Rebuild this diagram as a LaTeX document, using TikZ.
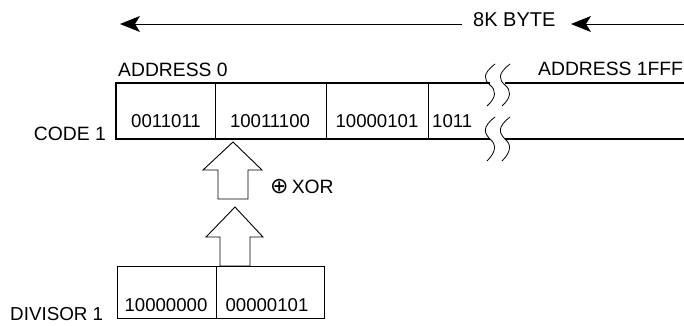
\documentclass[tikz,border=0pt]{standalone}
\usepackage{fontspec}
\setmainfont{Liberation Sans}
\newfontfamily\symfont{DejaVu Sans}
\usetikzlibrary{arrows.meta}
\begin{document}
\begin{tikzpicture}[x=1pt,y=-1pt,
  lbl/.style={inner sep=0pt, font=\fontsize{19.3}{22}\selectfont},
  digits/.style={inner sep=0pt, font=\fontsize{18.6}{22}\selectfont},
  boxline/.style={line width=1.1pt},
  thin/.style={line width=0.9pt},
  breakline/.style={line width=0.8pt},
  sizearrow/.style={line width=0.9pt, -{Stealth[length=20pt,width=16pt,inset=5pt]}},
  blockarrow/.style={line width=0.9pt, fill=white}
]
\useasboundingbox (0,0) rectangle (684,325);

% top size arrow
\node[inner sep=0pt, font=\fontsize{20}{22}\selectfont, anchor=west] (byte) at (473,20) {8K BYTE};
\coordinate (leftend) at (120,24);
\coordinate (leftstart) at (462,24);
\coordinate (rightstart) at (684,24);
\coordinate (righttip) at (571,24);
\draw[sizearrow] (leftstart) -- (leftend);
\draw[sizearrow] (rightstart) -- (righttip);

% address labels
\node[lbl, anchor=west] (addr0) at (118,69.5) {ADDRESS 0};
\node[lbl, anchor=west] (addr1) at (538,69) {ADDRESS 1FFF};

% code 1 memory strip
\coordinate (ctl) at (116,83);
\coordinate (cbl) at (116,139);
\draw[boxline] (490,83) -- (ctl) -- (cbl) -- (490,139);
\draw[boxline] (505,83) -- (684,83);
\draw[boxline] (505,139) -- (684,139);
\foreach \xx in {215,326,428}{
  \draw[thin] (\xx,83) -- (\xx,139);
}
% break marks
\foreach \xx in {490,505}{
  \draw[breakline] (\xx+5,64) .. controls (\xx-8,74) and (\xx-6,80) .. (\xx,85)
                   .. controls (\xx+6,90) and (\xx+7,97) .. (\xx-3,106);
  \draw[breakline] (\xx+5,117) .. controls (\xx-8,127) and (\xx-6,133) .. (\xx,139)
                   .. controls (\xx+6,144) and (\xx+7,151) .. (\xx-3,161);
}

\node[digits] (v1) at (166,121.5) {0011011};
\node[digits] (v2) at (270,121.5) {10011100};
\node[digits] (v3) at (377,121.5) {10000101};
\node[digits, anchor=west] (v4) at (432,121.5) {1011};
\node[lbl, anchor=east] (code) at (106,134) {CODE 1};

% block arrows
\draw[blockarrow] (233,142) -- (262,170) -- (248,170) -- (248,199) -- (218,199)
  -- (218,170) -- (203,170) -- cycle;
\draw[blockarrow] (235,207) -- (263,237) -- (250,237) -- (250,266) -- (220,266)
  -- (220,237) -- (206,237) -- cycle;
\node[lbl, anchor=west] (xor) at (270,187) {{\symfont\fontsize{22}{22}\selectfont ⊕}\,XOR};

% divisor
\node[boxline, draw, minimum width=99pt, minimum height=52pt, anchor=north west, inner sep=0pt] (d1) at (117,266) {};
\node[boxline, draw, minimum width=108pt, minimum height=52pt, anchor=north west, inner sep=0pt] (d2) at (216,266) {};
\node[digits] (dv1) at (166,305.5) {10000000};
\node[digits] (dv2) at (267,305.5) {00000101};
\node[inner sep=0pt, font=\fontsize{18.8}{22}\selectfont, anchor=west] (div) at (10,314.5) {DIVISOR 1};
\end{tikzpicture}
\end{document}
